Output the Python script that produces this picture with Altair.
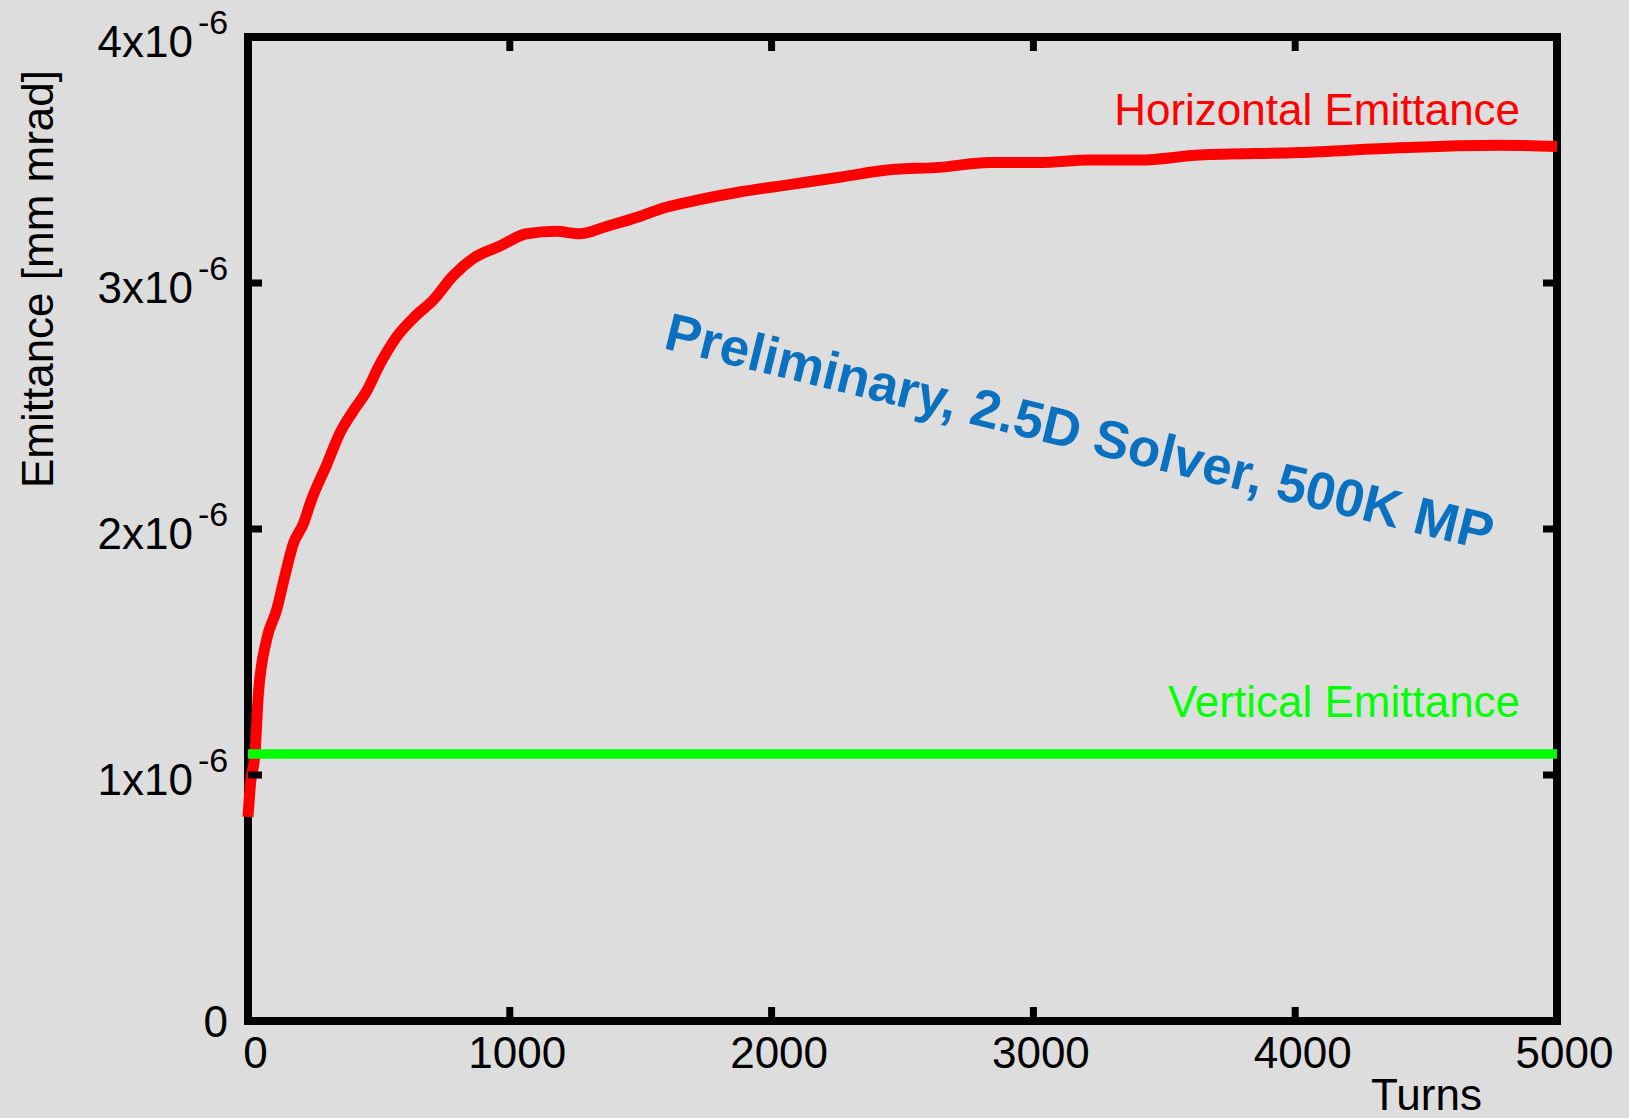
import altair as alt
import pandas as pd

# ---- data ----
turns = [0, 10, 27, 39, 71, 109, 141, 173, 211, 243, 300, 351, 402, 453, 504, 567,
         644, 707, 784, 860, 962, 1064, 1178, 1267, 1369, 1496, 1573, 1687, 1878,
         2069, 2260, 2450, 2641, 2832, 3023, 3214, 3405, 3634, 4015, 4397, 4779, 5000]
h_emit = [0.83e-6, 0.97e-6, 1.09e-6, 1.32e-6, 1.55e-6, 1.67e-6, 1.81e-6, 1.94e-6,
          2.02e-6, 2.12e-6, 2.26e-6, 2.39e-6, 2.48e-6, 2.56e-6, 2.67e-6, 2.78e-6,
          2.87e-6, 2.93e-6, 3.03e-6, 3.10e-6, 3.15e-6, 3.20e-6, 3.21e-6, 3.20e-6,
          3.23e-6, 3.27e-6, 3.30e-6, 3.33e-6, 3.37e-6, 3.40e-6, 3.43e-6, 3.46e-6,
          3.47e-6, 3.49e-6, 3.49e-6, 3.50e-6, 3.50e-6, 3.52e-6, 3.53e-6, 3.55e-6,
          3.56e-6, 3.555e-6]
v_turns = [0, 5000]
v_emit = [1.085e-6, 1.085e-6]

x_ticks = [0, 1000, 2000, 3000, 4000, 5000]
y_ticks = [0, 1e-6, 2e-6, 3e-6, 4e-6]
y_main = ["0", "1x10", "2x10", "3x10", "4x10"]
y_exp = ["", "-6", "-6", "-6", "-6"]

ann_text = ["Horizontal Emittance", "Vertical Emittance"]
ann_t = [4859, 4859]
ann_v = [3.642e-6, 1.236e-6]
ann_color = ["#ff0000", "#00ff00"]

prelim_text = ["Preliminary, 2.5D Solver, 500K MP"]
prelim_t = [3160]
prelim_v = [2.323e-6]

W, H = 1309, 984
FONT = "Liberation Sans"

xs = alt.Scale(domain=[0, 5000], nice=False, zero=False)
ys = alt.Scale(domain=[0, 4e-6], nice=False, zero=False)

red_df = pd.DataFrame({"t": turns, "v": h_emit})
green_df = pd.DataFrame({"t": v_turns, "v": v_emit})
xt_df = pd.DataFrame({"t": x_ticks})
yt_df = pd.DataFrame({"v": y_ticks, "main": y_main, "exp": y_exp})
ann_df = pd.DataFrame({"t": ann_t, "v": ann_v, "txt": ann_text, "c": ann_color})
pre_df = pd.DataFrame({"t": prelim_t, "v": prelim_v, "txt": prelim_text})

red = alt.Chart(red_df).mark_line(
    color="#ff0000", strokeWidth=11, interpolate="monotone", strokeJoin="round"
).encode(
    x=alt.X("t:Q", scale=xs, axis=alt.Axis(
        orient="bottom",
        title="Turns", values=x_ticks, format="d", labelFontSize=44, labelFont=FONT,
        labelColor="black", labelPadding=11, labelOffset=7, labelFlush=False,
        labelOverlap=False, ticks=False, tickSize=0, domain=False, grid=False,
        titleFontSize=44, titleFont=FONT, titleFontWeight="normal", titleColor="black",
        titleX=1178, titleY=88, titleAlign="center", titleBaseline="alphabetic")),
    y=alt.Y("v:Q", scale=ys, axis=alt.Axis(
        orient="left",
        title="Emittance [mm mrad]", labels=False, ticks=False, tickSize=0,
        domain=False, grid=False, titleFontSize=44, titleFont=FONT,
        titleFontWeight="normal", titleColor="black", titleAngle=270,
        titleX=-196, titleY=241.5, titleAlign="center", titleBaseline="alphabetic")),
)

green = alt.Chart(green_df).mark_line(color="#00ff00", strokeWidth=9.5).encode(
    x=alt.X("t:Q", scale=xs, axis=None),
    y=alt.Y("v:Q", scale=ys, axis=None),
)

tick_style = dict(color="black", strokeWidth=7)
bottom_ticks = alt.Chart(xt_df).mark_rule(**tick_style).encode(
    x=alt.X("t:Q", scale=xs, axis=None), y=alt.value(H), y2=alt.value(H - 14))
top_ticks = alt.Chart(xt_df).mark_rule(**tick_style).encode(
    x=alt.X("t:Q", scale=xs, axis=None), y=alt.value(0), y2=alt.value(14))
left_ticks = alt.Chart(yt_df).mark_rule(**tick_style).encode(
    y=alt.Y("v:Q", scale=ys, axis=None), x=alt.value(0), x2=alt.value(14))
right_ticks = alt.Chart(yt_df).mark_rule(**tick_style).encode(
    y=alt.Y("v:Q", scale=ys, axis=None), x=alt.value(W), x2=alt.value(W - 14))

zero_lab = alt.Chart(yt_df).transform_filter("datum.exp == ''").mark_text(
    font=FONT, fontSize=44, align="right", baseline="alphabetic", dy=16, color="black"
).encode(y=alt.Y("v:Q", scale=ys, axis=None), x=alt.value(-20), text="main:N")

main_lab = alt.Chart(yt_df).transform_filter("datum.exp != ''").mark_text(
    font=FONT, fontSize=44, align="right", baseline="alphabetic", dy=19.5, color="black"
).encode(y=alt.Y("v:Q", scale=ys, axis=None), x=alt.value(-55), text="main:N")

exp_lab = alt.Chart(yt_df).transform_filter("datum.exp != ''").mark_text(
    font=FONT, fontSize=34, align="left", baseline="alphabetic", dy=-3.5, color="black"
).encode(y=alt.Y("v:Q", scale=ys, axis=None), x=alt.value(-50), text="exp:N")

ann = alt.Chart(ann_df).mark_text(
    font=FONT, fontSize=44, align="right", baseline="alphabetic"
).encode(
    x=alt.X("t:Q", scale=xs, axis=None),
    y=alt.Y("v:Q", scale=ys, axis=None),
    text="txt:N",
    color=alt.Color("c:N", scale=None),
)

prelim = alt.Chart(pre_df).mark_text(
    font=FONT, fontSize=53, fontWeight="bold", align="center", baseline="alphabetic",
    angle=13.8, color="#0a70c0"
).encode(
    x=alt.X("t:Q", scale=xs, axis=None),
    y=alt.Y("v:Q", scale=ys, axis=None),
    text="txt:N",
)

chart = alt.layer(
    red, green, bottom_ticks, top_ticks, left_ticks, right_ticks,
    zero_lab, main_lab, exp_lab, ann, prelim
).resolve_axis(
    x="independent", y="independent"
).properties(
    width=W, height=H,
    padding={"left": 248, "top": 37, "right": 72, "bottom": 97},
    autosize=alt.AutoSizeParams(type="none"),
).configure(
    background="#dddddd", font=FONT
).configure_view(
    stroke="black", strokeWidth=8
)

chart.save("out.html", embed_options={"renderer": "svg", "actions": False})
